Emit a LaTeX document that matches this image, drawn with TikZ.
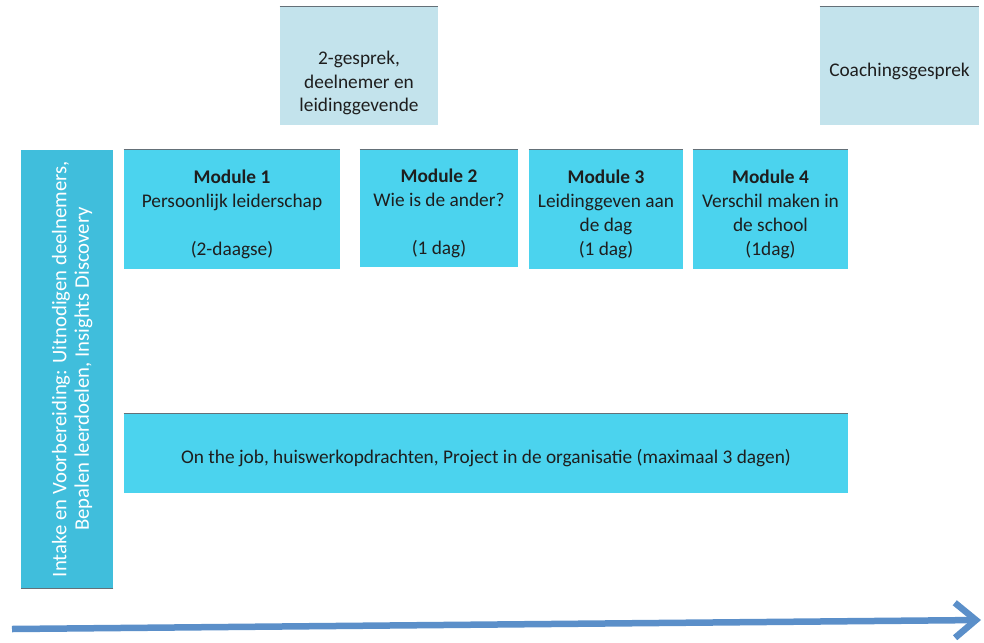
\documentclass[tikz,border=0pt]{standalone}
\usepackage{fontspec}
\setmainfont{Carlito}
\usepackage{xcolor}
\usepackage{tikz}
\usetikzlibrary{positioning,arrows.meta}

\definecolor{lightbox}{RGB}{195,227,236}
\definecolor{modbox}{RGB}{75,211,238}
\definecolor{intakebox}{RGB}{64,190,220}
\definecolor{timeline}{RGB}{91,143,201}
\definecolor{topedge}{RGB}{100,112,120}
\definecolor{txt}{RGB}{30,30,30}

% invisible strut to push the text down a bit
\newcommand{\topgap}[1]{\rule{0pt}{#1}}

\begin{document}
\begin{tikzpicture}[>=stealth,
  talk/.style={fill=lightbox, text=txt, align=center, inner sep=0pt, font=\fontsize{11}{13.6}\selectfont},
  module/.style={fill=modbox, text=txt, align=center, inner sep=0pt, font=\fontsize{11}{13.6}\selectfont},
  intake/.style={fill=intakebox, text=white, align=center, inner sep=0pt, rotate=90, font=\fontsize{11.8}{12.8}\selectfont},
  edge/.style={draw=topedge, line width=0.7pt}]
\useasboundingbox (0,0) rectangle (19.68,-12.84);

% talks on top
\node[talk, minimum width=3.16cm, minimum height=2.36cm] (G) at (7.18,-1.32) {\topgap{0.95cm}2-gesprek,\\deelnemer en\\leidinggevende};
\node[talk, minimum width=3.18cm, minimum height=2.36cm] (C) at (17.99,-1.32) {\topgap{0.47cm}Coachingsgesprek};

% intake bar
\node[intake, minimum width=8.76cm, minimum height=1.84cm] (I) at (1.34,-7.38) {\topgap{0.5cm}Intake en Voorbereiding: Uitnodigen deelnemers,\\Bepalen leerdoelen, Insights Discovery};

% modules
\node[module, minimum width=4.32cm, minimum height=2.38cm] (M1) at (4.64,-4.19) {\topgap{0.47cm}\textbf{Module 1}\\Persoonlijk leiderschap\\\mbox{}\\(2-daagse)};
\node[module, minimum width=3.16cm, minimum height=2.34cm] (M2) at (8.78,-4.17) {\topgap{0.47cm}\textbf{Module 2}\\Wie is de ander?\\\mbox{}\\(1 dag)};
\node[module, minimum width=3.08cm, minimum height=2.38cm] (M3) at (12.12,-4.19) {\topgap{0.47cm}\textbf{Module 3}\\Leidinggeven aan\\de dag\\(1 dag)};
\node[module, minimum width=3.10cm, minimum height=2.38cm] (M4) at (15.41,-4.19) {\topgap{0.47cm}\textbf{Module 4}\\Verschil maken in\\de school\\(1dag)};

% on the job
\node[module, minimum width=14.48cm, minimum height=1.58cm] (J) at (9.72,-9.07) {\topgap{0.47cm}On the job, huiswerkopdrachten, Project in de organisatie (maximaal 3 dagen)};

% top edges
\foreach \n in {G,C,M1,M2,M3,M4,J}
  \draw[edge] (\n.north west) -- (\n.north east);
\draw[edge] (I.south west) -- (I.north west);

% time line
\coordinate (T0) at (0.24,-12.58);
\coordinate (T1) at (19.62,-12.40);
\draw[timeline, line width=0.13cm, -{Straight Barb[length=0.42cm,width=0.7cm]}] (T0) -- (T1);
\end{tikzpicture}
\end{document}
